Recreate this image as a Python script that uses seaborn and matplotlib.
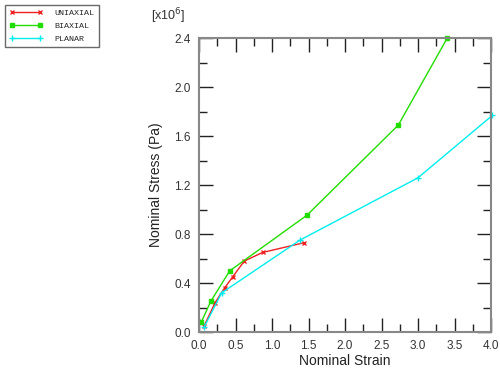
import matplotlib
matplotlib.use("Agg")
import matplotlib.pyplot as plt
from matplotlib.ticker import MultipleLocator, FormatStrFormatter
import seaborn as sns
import pandas as pd

# nominal strain / nominal stress (x10^6 Pa)
uniaxial_strain = [0.07, 0.22, 0.35, 0.46, 0.62, 0.87, 1.44]
uniaxial_stress = [0.05, 0.24, 0.36, 0.45, 0.58, 0.65, 0.73]
biaxial_strain = [0.03, 0.16, 0.42, 1.48, 2.73, 3.40]
biaxial_stress = [0.08, 0.25, 0.50, 0.955, 1.69, 2.40]
planar_strain = [0.07, 0.31, 1.38, 3.00, 4.02]
planar_stress = [0.04, 0.32, 0.75, 1.26, 1.77]

series = [
    ("UNIAXIAL", uniaxial_strain, uniaxial_stress, "#ee2020", "x", 3.5),
    ("BIAXIAL", biaxial_strain, biaxial_stress, "#22dd00", "s", 3),
    ("PLANAR", planar_strain, planar_stress, "#00eeee", "+", 4),
]

sns.set_style("white")
plt.rcParams["font.family"] = ["Liberation Sans", "DejaVu Sans"]

fig = plt.figure(figsize=(5, 3.74), dpi=100)
ax = fig.add_axes([0.398, 0.112, 0.584, 0.786])

for name, xs, ys, color, marker, ms in series:
    df = pd.DataFrame({"strain": xs, "stress": ys})
    sns.lineplot(data=df, x="strain", y="stress", sort=False, ax=ax,
                 color=color, marker=marker, markersize=ms, linewidth=1,
                 markeredgecolor=color, markerfacecolor=color,
                 markeredgewidth=1, label=name, clip_on=False)

ax.set_xlim(0, 4.0)
ax.set_ylim(0, 2.4)
ax.xaxis.set_major_locator(MultipleLocator(0.5))
ax.xaxis.set_minor_locator(MultipleLocator(0.25))
ax.yaxis.set_major_locator(MultipleLocator(0.4))
ax.yaxis.set_minor_locator(MultipleLocator(0.2))
ax.xaxis.set_major_formatter(FormatStrFormatter("%.1f"))
ax.yaxis.set_major_formatter(FormatStrFormatter("%.1f"))
ax.tick_params(which="both", direction="in", top=True, right=True,
               bottom=True, left=True, color="#222222", labelsize=8.5,
               labelcolor="#333333", pad=6)
ax.tick_params(which="major", length=10, width=1)
ax.tick_params(which="minor", length=6, width=1)
for s in ax.spines.values():
    s.set_color("#888888")
    s.set_linewidth(1.5)

ax.set_xlabel("Nominal Strain", fontsize=10, labelpad=1, color="#222222")
ax.set_ylabel("Nominal Stress (Pa)", fontsize=10, labelpad=8, color="#222222")
fig.text(0.302, 0.945, r"[x10$^6$]", fontsize=9, color="#333333")

leg = ax.legend(loc="upper left", bbox_to_anchor=(0.002, 0.998),
                bbox_transform=fig.transFigure, numpoints=2,
                prop={"family": "Liberation Mono", "size": 6},
                frameon=True, fancybox=False, borderpad=0.5,
                handlelength=4, handletextpad=1.4, labelspacing=0.6)
leg.get_frame().set_edgecolor("#444444")
leg.get_frame().set_linewidth(1)

fig.savefig("out.png", dpi=100)
